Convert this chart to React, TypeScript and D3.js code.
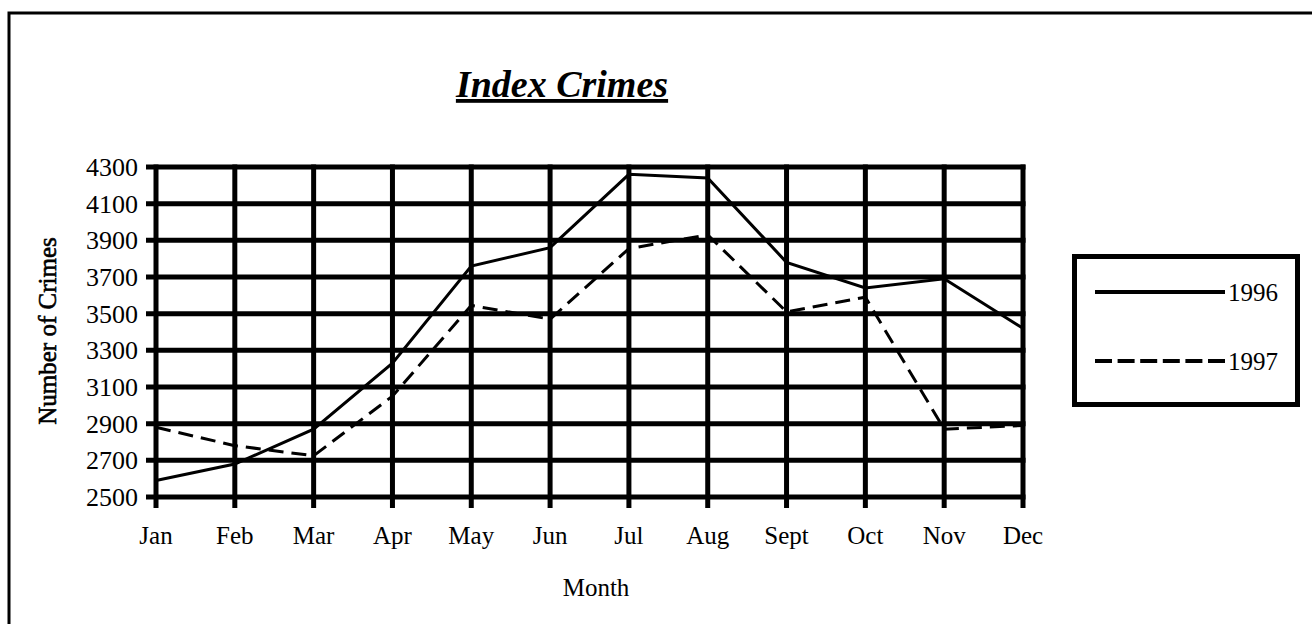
import React from 'react';
import * as d3 from 'd3';

const months = ['Jan', 'Feb', 'Mar', 'Apr', 'May', 'Jun', 'Jul', 'Aug', 'Sept', 'Oct', 'Nov', 'Dec'];
const crimes1996 = [2590, 2680, 2870, 3230, 3760, 3860, 4260, 4240, 3780, 3640, 3690, 3420];
const crimes1997 = [2880, 2780, 2725, 3050, 3545, 3470, 3855, 3930, 3510, 3590, 2870, 2890];
const yTicks = [2500, 2700, 2900, 3100, 3300, 3500, 3700, 3900, 4100, 4300];

const seriesList = [
  { label: '1996', values: crimes1996, dash: 'none' },
  { label: '1997', values: crimes1997, dash: '15,8' },
];

const App = () => {
  const Width = 1312;
  const Height = 624;
  const font = '"Liberation Serif", "Times New Roman", serif';

  const xScale = d3.scalePoint<string>().domain(months).range([156, 1023]);
  const yScale = d3.scaleLinear().domain([2500, 4300]).range([497, 167]);

  const line = d3
    .line<number>()
    .x((d, i) => xScale(months[i]) as number)
    .y((d) => yScale(d));

  const gridLeft = 146;
  const gridRight = (xScale('Dec') as number) + 2.5;

  // horizontal grid lines, which also serve as the y ticks
  const hLines = yTicks.map((t) => (
    <g key={t}>
      <line x1={gridLeft} x2={gridRight} y1={yScale(t)} y2={yScale(t)} stroke="#000" strokeWidth={5} />
      <text
        x={138}
        y={yScale(t)}
        dy="0.35em"
        textAnchor="end"
        style={{ fontSize: '26px', fontFamily: font }}
      >
        {t}
      </text>
    </g>
  ));

  const vLines = months.map((m) => (
    <g key={m}>
      <line
        x1={xScale(m)}
        x2={xScale(m)}
        y1={yScale(4300) - 2.5}
        y2={508}
        stroke="#000"
        strokeWidth={5}
      />
      <text x={xScale(m)} y={544} textAnchor="middle" style={{ fontSize: '25px', fontFamily: font }}>
        {m}
      </text>
    </g>
  ));

  const paths = seriesList.map((s) => (
    <path key={s.label} d={line(s.values) || ''} fill="none" stroke="#000" strokeWidth={3} strokeDasharray={s.dash} />
  ));

  const legend = seriesList.map((s, index) => (
    <g key={s.label} transform={`translate(1095, ${292 + index * 69})`}>
      <line x1={0} x2={130} y1={0} y2={0} stroke="#000" strokeWidth={4} strokeDasharray={s.dash === 'none' ? 'none' : '17,5.6'} />
      <text x={133} y={0} dy="0.35em" style={{ fontSize: '25px', fontFamily: font }}>
        {s.label}
      </text>
    </g>
  ));

  return (
    <div style={{ position: 'absolute', left: 0, top: 0 }}>
      <svg width={Width} height={Height} style={{ display: 'block', background: '#fff' }}>
        <rect x={9} y={13} width={Width} height={Height} fill="none" stroke="#000" strokeWidth={3} />

        <text
          x={562}
          y={97}
          textAnchor="middle"
          style={{ fontSize: '38px', fontFamily: font, fontWeight: 'bold', fontStyle: 'italic', textDecoration: 'underline' }}
        >
          Index Crimes
        </text>

        <g>{hLines}</g>
        <g>{vLines}</g>
        <g>{paths}</g>

        <text
          transform={`translate(47, 331) rotate(-90)`}
          textAnchor="middle"
          dy="0.35em"
          style={{ fontSize: '25px', fontFamily: font }}
          stroke="#000"
          strokeWidth={0.6}
        >
          Number of Crimes
        </text>

        <text x={596} y={596} textAnchor="middle" style={{ fontSize: '25px', fontFamily: font }}>
          Month
        </text>

        <rect x={1074.5} y={256.5} width={223} height={148} fill="none" stroke="#000" strokeWidth={5} />
        <g>{legend}</g>
      </svg>
    </div>
  );
};

export default App;
